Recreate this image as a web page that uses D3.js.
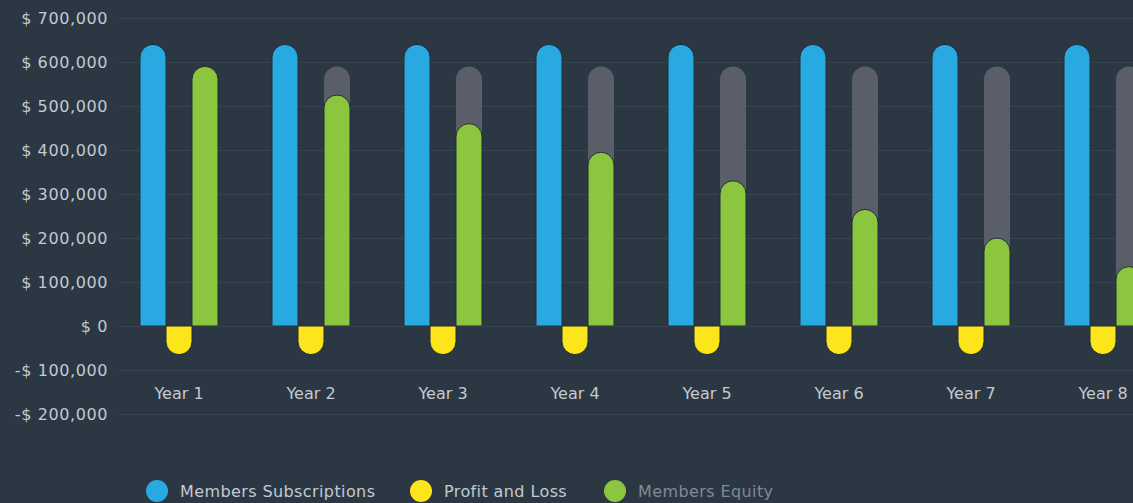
<!DOCTYPE html>
<html>
<head>
<meta charset="utf-8">
<script src="https://cdn.jsdelivr.net/npm/d3@7"></script>
<style>
  html, body { margin: 0; padding: 0; background: #2b3843; overflow: hidden; }
  svg { display: block; font-family: "DejaVu Sans", sans-serif; }
</style>
</head>
<body>
<svg id="chart" width="1133" height="503"></svg>
<script>
// Yearly membership figures
const years = ["Year 1", "Year 2", "Year 3", "Year 4", "Year 5", "Year 6", "Year 7", "Year 8"];
const subscriptions = [640000, 640000, 640000, 640000, 640000, 640000, 640000, 640000];
const profitLoss = [-65000, -65000, -65000, -65000, -65000, -65000, -65000, -65000];
const equity = [590000, 525000, 460000, 395000, 330000, 265000, 200000, 135000];
const equityCeiling = 590000;
const yTicks = [700000, 600000, 500000, 400000, 300000, 200000, 100000, 0, -100000, -200000];
const seriesNames = ["Members Subscriptions", "Profit and Loss", "Members Equity"];

const colors = {
  bg: "#2b3843",
  grid: "#364552",
  text: "#c3cad0",
  dimText: "#7f8a94",
  blue: "#29a9e1",
  yellow: "#fde51c",
  green: "#8cc63e",
  track: "#595e68",
  edge: "#222c36"
};

const svg = d3.select("#chart");
const W = 1133, H = 503;

svg.append("rect").attr("width", W).attr("height", H).attr("fill", colors.bg);

const y = d3.scaleLinear().domain([-200000, 700000]).range([414, 18]);
const x = d3.scaleBand().domain(years).range([113, 113 + 132 * years.length]).paddingInner(0).paddingOuter(0);
const barW = 26;
const groupOffset = (x.bandwidth() - barW * 3) / 2;

// Gridlines
svg.append("g").selectAll("line").data(yTicks).join("line")
  .attr("x1", 118).attr("x2", W)
  .attr("y1", d => Math.round(y(d)) + 0.5).attr("y2", d => Math.round(y(d)) + 0.5)
  .attr("stroke", colors.grid).attr("stroke-width", 1);

// Y axis labels
const fmt = d3.format(",");
const yLabel = v => (v < 0 ? "-$ " : "$ ") + fmt(Math.abs(v));
svg.append("g").selectAll("text").data(yTicks).join("text")
  .attr("x", 108).attr("y", d => y(d)).attr("dy", "0.35em")
  .attr("text-anchor", "end").attr("fill", colors.text)
  .attr("font-size", 16).attr("letter-spacing", 0.6).text(yLabel);

// Bar with a rounded end: top for positive values, bottom for negative
function roundedBar(x0, w, v) {
  const r = w / 2;
  const z = y(0), e = y(v);
  const p = d3.path();
  if (v >= 0) {
    p.moveTo(x0, z);
    p.lineTo(x0, e + r);
    p.arc(x0 + r, e + r, r, Math.PI, 0);
    p.lineTo(x0 + w, z);
    p.closePath();
  } else {
    p.moveTo(x0, z);
    p.lineTo(x0, e - r);
    p.arc(x0 + r, e - r, r, Math.PI, 0, true);
    p.lineTo(x0 + w, z);
    p.closePath();
  }
  return p.toString();
}

const groups = svg.append("g").selectAll("g").data(years).join("g")
  .attr("transform", d => `translate(${x(d) + groupOffset},0)`);

// Equity track (ceiling) behind the equity bar
groups.append("path")
  .attr("d", () => roundedBar(barW * 2, barW, equityCeiling))
  .attr("fill", colors.track);

groups.append("path")
  .attr("d", (d, i) => roundedBar(0, barW, subscriptions[i]))
  .attr("fill", colors.blue).attr("stroke", colors.edge).attr("stroke-width", 1);

groups.append("path")
  .attr("d", (d, i) => roundedBar(barW * 2, barW, equity[i]))
  .attr("fill", colors.green).attr("stroke", colors.edge).attr("stroke-width", 1);

groups.append("path")
  .attr("d", (d, i) => roundedBar(barW, barW, profitLoss[i]))
  .attr("fill", colors.yellow).attr("stroke", colors.edge).attr("stroke-width", 1);

// Category labels
svg.append("g").selectAll("text").data(years).join("text")
  .attr("x", d => x(d) + x.bandwidth() / 2).attr("y", 393).attr("dy", "0.35em")
  .attr("text-anchor", "middle").attr("fill", colors.text)
  .attr("font-size", 16).text(d => d);

// Legend
const legendItems = [
  { name: seriesNames[0], color: colors.blue, cx: 157, text: colors.text },
  { name: seriesNames[1], color: colors.yellow, cx: 421, text: colors.text },
  { name: seriesNames[2], color: colors.green, cx: 615, text: colors.dimText }
];
const lg = svg.append("g").selectAll("g").data(legendItems).join("g");
lg.append("circle").attr("cx", d => d.cx).attr("cy", 491).attr("r", 11).attr("fill", d => d.color);
lg.append("text").attr("x", d => d.cx + 23).attr("y", 491).attr("dy", "0.35em")
  .attr("fill", d => d.text).attr("font-size", 16).attr("letter-spacing", 0.4).text(d => d.name);
</script>
</body>
</html>
